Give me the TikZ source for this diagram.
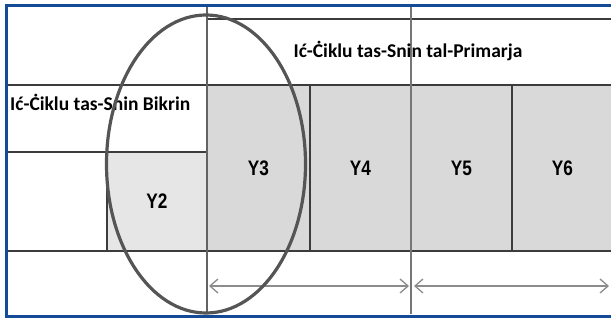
\documentclass[tikz,border=0pt]{standalone}
\usepackage{fontspec}
\setmainfont{Carlito}
\newfontfamily\arialf{Liberation Sans}
\usetikzlibrary{shapes.geometric,arrows.meta}
\definecolor{frameblue}{RGB}{20,75,150}
\definecolor{gridline}{RGB}{60,60,60}
\definecolor{cellgray}{RGB}{217,217,217}
\definecolor{cellgrayl}{RGB}{230,230,230}
\definecolor{ringgray}{RGB}{85,85,85}
\definecolor{arrowgray}{RGB}{140,140,140}
\tikzset{
  grid/.style={draw=gridline, line width=1.1pt},
  cell/.style={draw=gridline, line width=1.1pt, fill=cellgray, inner sep=0pt,
    font=\arialf\bfseries\fontsize{21}{21}\selectfont},
  heading/.style={font=\bfseries\fontsize{19.5}{19.5}\selectfont, inner sep=0pt},
  span/.style={draw=arrowgray, line width=1.3pt, {Straight Barb[length=8pt,width=14pt]}-{Straight Barb[length=8pt,width=14pt]}},
}
\begin{document}
\begin{tikzpicture}[x=1pt,y=-1pt]
\useasboundingbox (0,0) rectangle (611,320);
\clip (0,0) rectangle (611,320);
\fill[white] (0,0) rectangle (611,320);
% grid lines
\draw[grid] (6,85) -- (611,85);
\draw[grid] (6,152) -- (207,152);
\draw[grid] (6,251) -- (611,251);
\draw[grid] (207,19) -- (611,19);
% cells
\node[cell, fill=cellgrayl, minimum width=100pt, minimum height=99pt] (y2) at (157,201.5) {\scalebox{0.82}[1]{Y2}};
\node[cell, minimum width=103pt, minimum height=166pt] (y3) at (258.5,168) {\scalebox{0.82}[1]{Y3}};
\node[cell, minimum width=101pt, minimum height=166pt] (y4) at (360.5,168) {\scalebox{0.82}[1]{Y4}};
\node[cell, minimum width=101pt, minimum height=166pt] (y5) at (461.5,168) {\scalebox{0.82}[1]{Y5}};
\node[cell, minimum width=101pt, minimum height=166pt] (y6) at (562.5,168) {\scalebox{0.82}[1]{Y6}};
\draw[grid, draw=gridline!80] (207,6) -- (207,314);
\draw[grid, draw=gridline!70] (411,6) -- (411,314);
% headings
\node[heading] (prim) at (408,51) {Ić-Ċiklu tas-Snin tal-Primarja};
\node[heading, anchor=west] (bikr) at (10,102) {Ić-Ċiklu tas-Snin Bikrin};
% spans
\coordinate (a1) at (209,286);
\coordinate (a2) at (409,286);
\coordinate (b1) at (414,286);
\coordinate (b2) at (609,286);
\draw[span] (a1) -- (a2);
\draw[span] (b1) -- (b2);
% ring
\node[ellipse, draw=ringgray, line width=3.2pt, minimum width=199pt, minimum height=298pt, inner sep=0pt] (ring) at (206,164) {};
% frame
\draw[frameblue, line width=3pt] (622,6) -- (6,6) -- (6,317) -- (622,317);
\end{tikzpicture}
\end{document}
